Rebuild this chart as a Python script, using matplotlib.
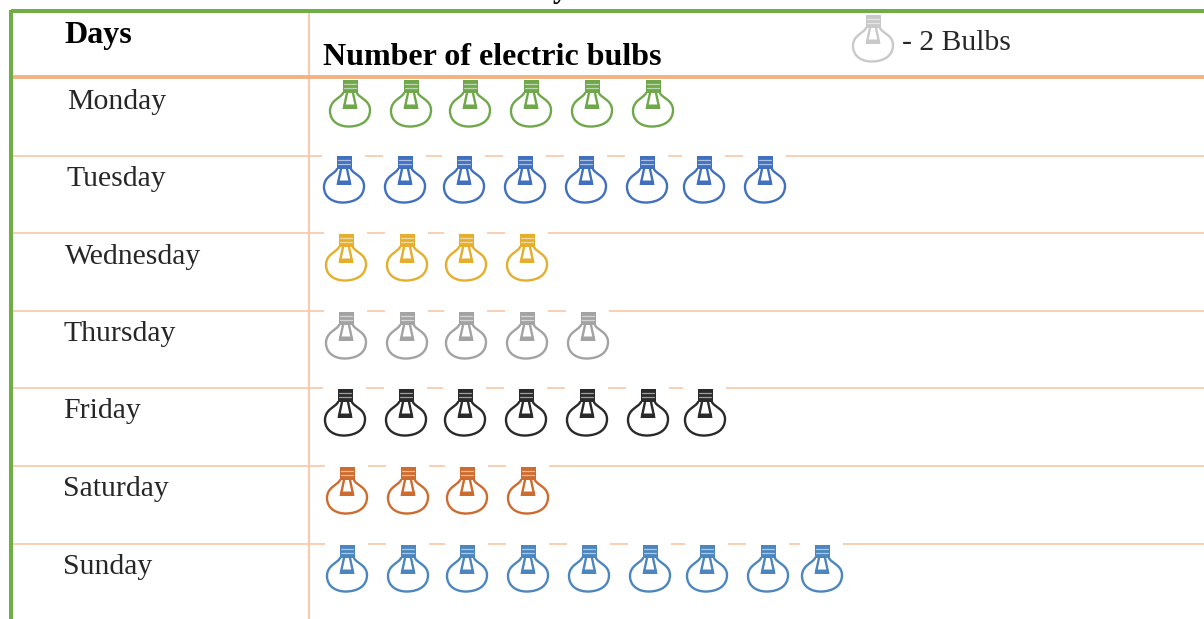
import matplotlib
matplotlib.use("Agg")
import matplotlib.pyplot as plt
from matplotlib.path import Path
from matplotlib.patches import PathPatch, Rectangle
from matplotlib.transforms import Affine2D

# ---- data ----
days = ["Monday", "Tuesday", "Wednesday", "Thursday", "Friday", "Saturday", "Sunday"]
bulbs_sold = [12, 16, 8, 10, 14, 8, 18]
bulbs_per_icon = 2
header_days = "Days"
header_bulbs = "Number of electric bulbs"
key_text = "- 2 Bulbs"
cut_title_fragment = "y"

# ---- style / layout ----
colors = ["#6FA84A", "#4170BE", "#E5AE2C", "#A3A3A3", "#2A2A2A", "#CE6B2E", "#4C86BE"]
row_lines = [155.5, 233, 310.5, 388, 465.5, 544]
row_tops = [80, 156, 234, 312, 389, 467, 545]
row_starts = [350, 344, 346, 346, 345, 347, 347]
icon_offsets = [0, 61, 120, 181, 242, 303, 360, 421, 475]
label_x = [67.5, 66.5, 64.5, 63.5, 63, 63, 63]
label_base = [109, 186, 264, 341, 418, 496, 574]
GREEN, PEACH, PEACH_LIGHT = "#70AD47", "#F4B183", "#F8CBAD"
TEXT = "#262626"
SERIF = ["Liberation Serif", "DejaVu Serif"]

M, L, C = Path.MOVETO, Path.LINETO, Path.CURVE4
glass = Path(
    [(-7, 13), (-9, 18), (-20, 20), (-20, 31), (-20, 42), (-10, 47), (0, 46.5),
     (11, 46), (20, 41), (20, 30), (20, 20), (9, 18), (7, 13)],
    [M, C, C, C, C, C, C, C, C, C, C, C, C],
)
wires = Path([(-3, 13), (-6, 27), (6, 27), (3, 13)], [M, L, L, L])
cap = Path([(-7.5, 0), (7.5, 0), (7.5, 13), (-7.5, 13), (-7.5, 0)], [M, L, L, L, Path.CLOSEPOLY])
base = Path([(-6.5, 24.5), (6.5, 24.5), (7.5, 29), (-7.5, 29), (-6.5, 24.5)], [M, L, L, L, Path.CLOSEPOLY])
bands = [Path([(-6, y), (6, y)], [M, L]) for y in (4.0, 8.0)]


def draw_bulb(ax, cx, top, color, back=True):
    tr = Affine2D().translate(cx, top) + ax.transData
    if back:
        ax.add_patch(Rectangle((cx - 22, top - 2), 43, 50, fc="white", ec="none", zorder=3))
    kw = dict(transform=tr, zorder=4, capstyle="round", joinstyle="round")
    ax.add_patch(PathPatch(glass, fc="none", ec=color, lw=1.7, **kw))
    ax.add_patch(PathPatch(wires, fc="none", ec=color, lw=1.7, **kw))
    ax.add_patch(PathPatch(base, fc=color, ec="none", **kw))
    ax.add_patch(PathPatch(cap, fc=color, ec="none", **kw))
    for b in bands:
        ax.add_patch(PathPatch(b, fc="none", ec="#FFFFFF", lw=0.9, alpha=0.55, **kw))


fig = plt.figure(figsize=(12.04, 6.19), dpi=100, facecolor="white")
ax = fig.add_axes([0, 0, 1, 1])
ax.set_xlim(0, 1204)
ax.set_ylim(619, 0)
ax.axis("off")

# grid of the table
for y in row_lines:
    ax.plot([11, 1204], [y, y], color=PEACH_LIGHT, lw=1.3, zorder=1, solid_capstyle="butt")
ax.plot([308.5, 308.5], [11, 619], color=PEACH_LIGHT, lw=1.5, zorder=1, solid_capstyle="butt")
ax.plot([11, 1204], [76.5, 76.5], color=PEACH, lw=2.8, zorder=3.5, solid_capstyle="butt")
ax.plot([11, 1204], [11, 11], color=GREEN, lw=2.9, zorder=5, solid_capstyle="butt")
ax.plot([11, 11], [9.5, 619], color=GREEN, lw=2.9, zorder=5, solid_capstyle="butt")

# remnant of the cropped title above the table
ax.text(553, -3, cut_title_fragment, family=SERIF, weight="bold", fontsize=22, color="black",
        va="baseline", zorder=6, clip_on=True)

# headers
ax.text(64, 43, header_days, family=SERIF, weight="bold", fontsize=23, color="black", va="baseline", zorder=6)
ax.text(323, 65, header_bulbs, family=SERIF, weight="bold", fontsize=23, color="black", va="baseline", zorder=6)

# key
draw_bulb(ax, 873, 15, "#C9C9C9", back=False)
ax.text(902, 50, key_text, family=SERIF, fontsize=21.3, color=TEXT, va="baseline", zorder=6)

# rows
for i, day in enumerate(days):
    ax.text(label_x[i], label_base[i], day, family=SERIF, fontsize=21.4, color=TEXT, va="baseline", zorder=6)
    for k in range(bulbs_sold[i] // bulbs_per_icon):
        draw_bulb(ax, row_starts[i] + icon_offsets[k], row_tops[i], colors[i])

fig.savefig("out.png", dpi=100, facecolor="white")
